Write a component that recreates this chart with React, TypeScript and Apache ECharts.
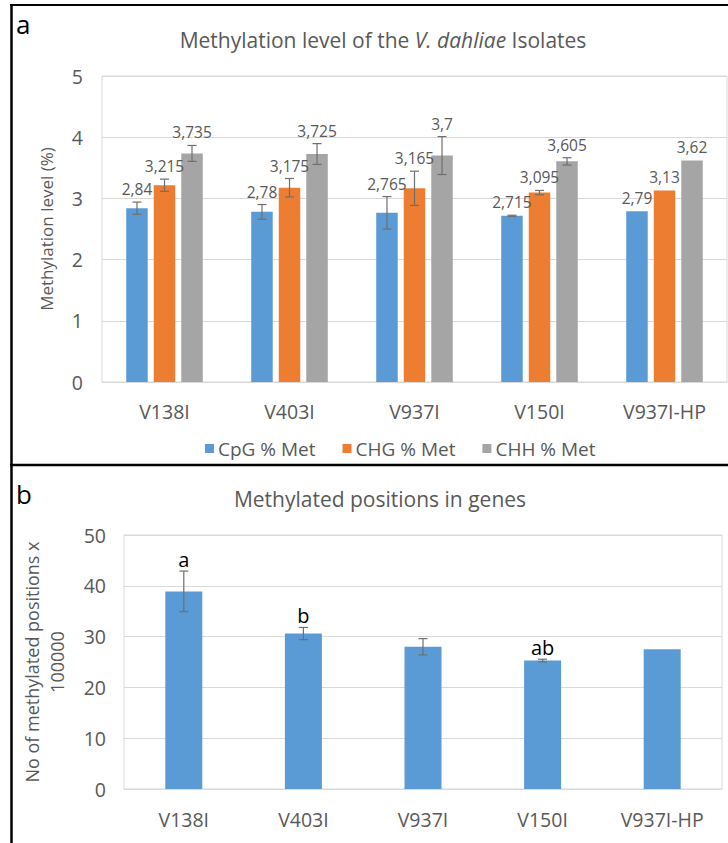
import React, { useEffect, useRef } from "react";
import * as echarts from "echarts";

const categories = ["V138I", "V403I", "V937I", "V150I", "V937I-HP"];
const seriesNames = ["CpG % Met", "CHG % Met", "CHH % Met"];
const cpg = [2.84, 2.78, 2.765, 2.715, 2.79];
const chg = [3.215, 3.175, 3.165, 3.095, 3.13];
const chh = [3.735, 3.725, 3.7, 3.605, 3.62];
const cpgErr = [0.1, 0.12, 0.265, 0.01, 0];
const chgErr = [0.1, 0.15, 0.28, 0.035, 0];
const chhErr = [0.13, 0.17, 0.31, 0.06, 0];
const positions = [38.9, 30.6, 28.0, 25.3, 27.5];
const positionsErr = [4.0, 1.2, 1.6, 0.25, 0];
const letters = ["a", "b", "", "ab", ""];
const topTicks = [0, 1, 2, 3, 4, 5];
const bottomTicks = [0, 10, 20, 30, 40, 50];

const COLORS = ["#5b9bd5", "#ed7d31", "#a5a5a5"];
const TEXT = "#595959";
const GRIDC = "#d9d9d9";
const ERRC = "#6f6f6f";
const FONT = "'Open Sans', sans-serif";
const TOP_BAR_W = 21.5;
const TOP_BAR_GAP = 0.28;
const BOT_BAR_W = 37;
const AXIS_FS = 19.5;

const fmt = (v: number) => String(v).replace(".", ",");

export default function App() {
  const ref = useRef<HTMLDivElement>(null);
  useEffect(() => {
    if (!ref.current) return;
    const chart = echarts.init(ref.current, null, { renderer: "svg" });
    const topValues = [cpg, chg, chh];
    const topErrs = [cpgErr, chgErr, chhErr];

    const errSeriesTop = topValues.map((vals, s) => ({
      type: "custom",
      xAxisIndex: 0,
      yAxisIndex: 0,
      z: 5,
      encode: { x: 0, y: 1 },
      data: vals.map((v, i) => [i, v, topErrs[s][i]]),
      renderItem: (params: any, api: any) => {
        const ci = api.value(0);
        const v = api.value(1);
        const e = api.value(2);
        const off = (s - 1) * TOP_BAR_W * (1 + TOP_BAR_GAP);
        const top = api.coord([ci, v + e]);
        const bot = api.coord([ci, v - e]);
        const x = top[0] + off;
        const children: any[] = [];
        if (e > 0) {
          const st = { stroke: ERRC, lineWidth: 1.2 };
          children.push({ type: "line", shape: { x1: x, y1: top[1], x2: x, y2: bot[1] }, style: st });
          children.push({ type: "line", shape: { x1: x - 4.5, y1: top[1], x2: x + 4.5, y2: top[1] }, style: st });
          children.push({ type: "line", shape: { x1: x - 4.5, y1: bot[1], x2: x + 4.5, y2: bot[1] }, style: st });
        }
        children.push({
          type: "text",
          x: x,
          y: top[1] - 5,
          style: {
            text: fmt(v),
            align: "center",
            verticalAlign: "bottom",
            fill: TEXT,
            fontSize: 15.5,
            fontFamily: FONT,
          },
        });
        return { type: "group", children };
      },
    }));

    const option: any = {
      animation: false,
      backgroundColor: "#ffffff",
      textStyle: { fontFamily: FONT },
      title: [
        {
          text: "{n|Methylation level of the }{i|V. dahliae}{n| Isolates}",
          left: 378,
          top: 24,
          textAlign: "center",
          textStyle: {
            fontWeight: "normal",
            rich: {
              n: { fontSize: 21, color: TEXT, fontFamily: FONT, fontWeight: "normal" },
              i: { fontSize: 21, color: TEXT, fontFamily: FONT, fontWeight: "normal", fontStyle: "italic" },
            },
          },
        },
        {
          text: "Methylated positions in genes",
          left: 375,
          top: 483,
          textAlign: "center",
          textStyle: { fontSize: 21, color: TEXT, fontFamily: FONT, fontWeight: "normal" },
        },
        {
          text: "a",
          left: 11,
          top: 6,
          textStyle: { fontSize: 26, color: "#000", fontFamily: FONT, fontWeight: "normal" },
        },
        {
          text: "b",
          left: 11,
          top: 476,
          textStyle: { fontSize: 26, color: "#000", fontFamily: FONT, fontWeight: "normal" },
        },
      ],
      legend: {
        data: seriesNames,
        left: 200,
        top: 434,
        icon: "rect",
        itemWidth: 9,
        itemHeight: 9,
        itemGap: 27,
        textStyle: { fontSize: 19, color: TEXT, fontFamily: FONT, padding: [0, 0, 0, -1] },
      },
      grid: [
        { left: 102, top: 76, right: 1, bottom: 461, show: true, borderColor: GRIDC, borderWidth: 1 },
        { left: 124, top: 535, right: 6, bottom: 54, show: true, borderColor: GRIDC, borderWidth: 1 },
      ],
      xAxis: [
        {
          type: "category",
          gridIndex: 0,
          data: categories,
          axisTick: { show: false },
          axisLine: { lineStyle: { color: GRIDC } },
          axisLabel: { fontSize: AXIS_FS, color: TEXT, margin: 19, fontFamily: FONT },
        },
        {
          type: "category",
          gridIndex: 1,
          data: categories,
          axisTick: { show: false },
          axisLine: { lineStyle: { color: GRIDC } },
          axisLabel: { fontSize: AXIS_FS, color: TEXT, margin: 20, fontFamily: FONT },
        },
      ],
      yAxis: [
        {
          type: "value",
          gridIndex: 0,
          min: topTicks[0],
          max: topTicks[topTicks.length - 1],
          interval: topTicks[1] - topTicks[0],
          axisLine: { show: false },
          axisTick: { show: false },
          splitLine: { lineStyle: { color: GRIDC } },
          axisLabel: { fontSize: AXIS_FS, color: TEXT, margin: 19, fontFamily: FONT },
          name: "Methylation level (%)",
          nameLocation: "middle",
          nameGap: 47,
          nameTextStyle: { fontSize: 17, color: TEXT, fontFamily: FONT },
        },
        {
          type: "value",
          gridIndex: 1,
          min: bottomTicks[0],
          max: bottomTicks[bottomTicks.length - 1],
          interval: bottomTicks[1] - bottomTicks[0],
          axisLine: { show: false },
          axisTick: { show: false },
          splitLine: { lineStyle: { color: GRIDC } },
          axisLabel: { fontSize: AXIS_FS, color: TEXT, margin: 18, fontFamily: FONT },
          name: "No of methylated positions x\n100000",
          nameLocation: "middle",
          nameGap: 55,
          nameTextStyle: { fontSize: 18, color: TEXT, fontFamily: FONT, lineHeight: 25 },
        },
      ],
      series: [
        ...topValues.map((vals, s) => ({
          type: "bar",
          name: seriesNames[s],
          xAxisIndex: 0,
          yAxisIndex: 0,
          data: vals,
          barWidth: TOP_BAR_W,
          barGap: TOP_BAR_GAP * 100 + "%",
          itemStyle: { color: COLORS[s] },
        })),
        ...errSeriesTop,
        {
          type: "bar",
          name: "positions",
          xAxisIndex: 1,
          yAxisIndex: 1,
          data: positions,
          barWidth: BOT_BAR_W,
          itemStyle: { color: COLORS[0] },
        },
        {
          type: "custom",
          xAxisIndex: 1,
          yAxisIndex: 1,
          z: 5,
          encode: { x: 0, y: 1 },
          data: positions.map((v, i) => [i, v, positionsErr[i]]),
          renderItem: (params: any, api: any) => {
            const ci = api.value(0);
            const v = api.value(1);
            const e = api.value(2);
            const top = api.coord([ci, v + e]);
            const bot = api.coord([ci, v - e]);
            const x = top[0];
            const children: any[] = [];
            if (e > 0) {
              const st = { stroke: ERRC, lineWidth: 1.2 };
              children.push({ type: "line", shape: { x1: x, y1: top[1], x2: x, y2: bot[1] }, style: st });
              children.push({ type: "line", shape: { x1: x - 4.5, y1: top[1], x2: x + 4.5, y2: top[1] }, style: st });
              children.push({ type: "line", shape: { x1: x - 4.5, y1: bot[1], x2: x + 4.5, y2: bot[1] }, style: st });
            }
            const letter = letters[params.dataIndex];
            if (letter) {
              children.push({
                type: "text",
                x: x,
                y: top[1] - 2,
                style: {
                  text: letter,
                  align: "center",
                  verticalAlign: "bottom",
                  fill: "#000",
                  fontSize: 20,
                  fontFamily: FONT,
                },
              });
            }
            return { type: "group", children };
          },
        },
      ],
      graphic: [
        { type: "line", shape: { x1: 10, y1: 5, x2: 728, y2: 5 }, style: { stroke: "#000", lineWidth: 2 } },
        { type: "line", shape: { x1: 11.5, y1: 4, x2: 11.5, y2: 843 }, style: { stroke: "#000", lineWidth: 2.5 } },
        { type: "line", shape: { x1: 10, y1: 465, x2: 728, y2: 465 }, style: { stroke: "#000", lineWidth: 2.5 } },
      ],
    };
    chart.setOption(option);
    return () => chart.dispose();
  }, []);
  return (
    <div
      ref={ref}
      style={{ position: "fixed", left: 0, top: 0, width: 728, height: 843, background: "#fff" }}
    />
  );
}
